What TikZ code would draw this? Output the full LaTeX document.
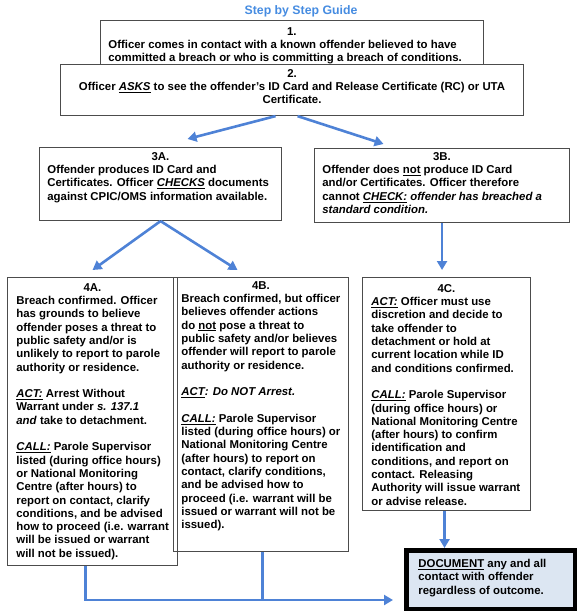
\documentclass[tikz,border=0pt]{standalone}
\usepackage{fontspec}
\setmainfont{Liberation Sans}
\usetikzlibrary{arrows.meta}

\definecolor{linkblue}{RGB}{78,130,214}
\definecolor{titleblue}{RGB}{70,140,225}
\definecolor{docblue}{RGB}{220,230,242}

\newcommand{\uit}[1]{\underline{\textit{#1}}}

\begin{document}
\begin{tikzpicture}[x=1pt, y=-1pt, thick]
\tikzstyle{stepbox}=[rectangle, draw=black!70, line width=1.1pt, anchor=north west, inner sep=0pt]
\tikzstyle{steptext}=[anchor=north west, align=left, inner sep=0pt, font=\fontsize{11.4}{13.3}\selectfont\bfseries]
\tikzstyle{drawstyle}=[draw=linkblue, line width=2.6pt, ->, >={Triangle[length=9pt,width=10pt]}]

\useasboundingbox (0,0) rectangle (580,615);

\node[font=\fontsize{12.3}{14}\selectfont\bfseries, text=titleblue] (title) at (301,11) {Step by Step Guide};

\node[stepbox, minimum width=383pt, minimum height=50pt] (S1) at (100,20) {};
\node[steptext] (T1) at ([xshift=8pt,yshift=-7pt]S1.north west) {\makebox[367pt]{1.}\\
Officer comes in contact with a known offender believed to have\\
committed a breach or who is committing a breach of conditions.};

\node[stepbox, fill=white, minimum width=463pt, minimum height=51pt] (S2) at (60,64) {};
\node[steptext, anchor=north, align=center] (T2) at ([yshift=-5pt]S2.north) {2.\\
Officer \uit{ASKS} to see the offender’s ID Card and Release Certificate (RC) or UTA\\
Certificate.};

\node[stepbox, minimum width=242pt, minimum height=73pt] (S3A) at (39,147) {};
\node[steptext] (T3A) at ([xshift=8pt,yshift=-5pt]S3A.north west) {\makebox[226pt]{3A.}\\
Offender produces ID Card and\\
Certificates. Officer \uit{CHECKS} documents\\
against CPIC/OMS information available.};

\node[stepbox, minimum width=255pt, minimum height=74pt] (S3B) at (314,148) {};
\node[steptext] (T3B) at ([xshift=8pt,yshift=-4pt]S3B.north west) {\makebox[239pt]{3B.}\\
Offender does \underline{not} produce ID Card\\
and/or Certificates. Officer therefore\\
cannot \uit{CHECK:} \textit{offender has breached a}\\
\textit{standard condition.}};

\node[stepbox, minimum width=170pt, minimum height=288pt] (S4A) at (7,277) {};
\node[steptext] (T4A) at ([xshift=9pt,yshift=-6pt]S4A.north west) {\makebox[152pt]{4A.}\\
Breach confirmed. Officer\\
has grounds to believe\\
offender poses a threat to\\
public safety and/or is\\
unlikely to report to parole\\
authority or residence.\\[13.3pt]
\uit{ACT:} Arrest Without\\
Warrant under \textit{s. 137.1}\\
\textit{and} take to detachment.\\[13.3pt]
\uit{CALL:} Parole Supervisor\\
listed (during office hours)\\
or National Monitoring\\
Centre (after hours) to\\
report on contact, clarify\\
conditions, and be advised\\
how to proceed (i.e. warrant\\
will be issued or warrant\\
will not be issued).};

\node[stepbox, minimum width=175pt, minimum height=274pt] (S4B) at (173,277) {};
\node[steptext] (T4B) at ([xshift=8pt,yshift=-4pt]S4B.north west) {\makebox[159pt]{4B.}\\
Breach confirmed, but officer\\
believes offender actions\\
do \underline{not} pose a threat to\\
public safety and/or believes\\
offender will report to parole\\
authority or residence.\\[13.3pt]
\textit{\underline{ACT}: Do NOT Arrest.}\\[13.3pt]
\uit{CALL:} Parole Supervisor\\
listed (during office hours) or\\
National Monitoring Centre\\
(after hours) to report on\\
contact, clarify conditions,\\
and be advised how to\\
proceed (i.e. warrant will be\\
issued or warrant will not be\\
issued).};

\node[stepbox, minimum width=168pt, minimum height=233pt] (S4C) at (362,277) {};
\node[steptext] (T4C) at ([xshift=9pt,yshift=-7pt]S4C.north west) {\makebox[150pt]{4C.}\\
\uit{ACT:} Officer must use\\
discretion and decide to\\
take offender to\\
detachment or hold at\\
current location while ID\\
and conditions confirmed.\\[13.3pt]
\uit{CALL:} Parole Supervisor\\
(during office hours) or\\
National Monitoring Centre\\
(after hours) to confirm\\
identification and\\
conditions, and report on\\
contact. Releasing\\
Authority will issue warrant\\
or advise release.};

\node[stepbox, draw=black, line width=4.5pt, fill=docblue, minimum width=168.5pt, minimum height=58.5pt] (DOC) at (404,548) {};
\node[steptext] (TDOC) at (418,559) {\underline{DOCUMENT} any and all\\
contact with offender\\
regardless of outcome.};

\draw[drawstyle] ([xshift=-16.5pt]S2.south) -- ([xshift=27pt,yshift=8pt]S3A.north);
\draw[drawstyle] ([xshift=5.5pt]S2.south) -- ([xshift=-58.5pt,yshift=4pt]S3B.north);
\draw[drawstyle] (S3A.south) -- ([yshift=7pt]S4A.north);
\draw[drawstyle] (S3A.south) -- ([xshift=-23.5pt,yshift=7pt]S4B.north);
\draw[drawstyle] (S3B.south) -- ([yshift=7pt]S3B.south |- S4C.north);
\draw[drawstyle] ([xshift=-2pt]S4C.south) -- ([xshift=-2pt]S4C.south |- DOC.north);
\coordinate (DOCin) at ([xshift=-11pt,yshift=-20.5pt]DOC.west);
\draw[drawstyle] ([xshift=-7pt]S4A.south) |- (DOCin);
\draw[drawstyle, -] ([xshift=1.5pt]S4B.south) -- ([xshift=1.5pt]S4B.south |- DOCin);
\end{tikzpicture}
\end{document}
